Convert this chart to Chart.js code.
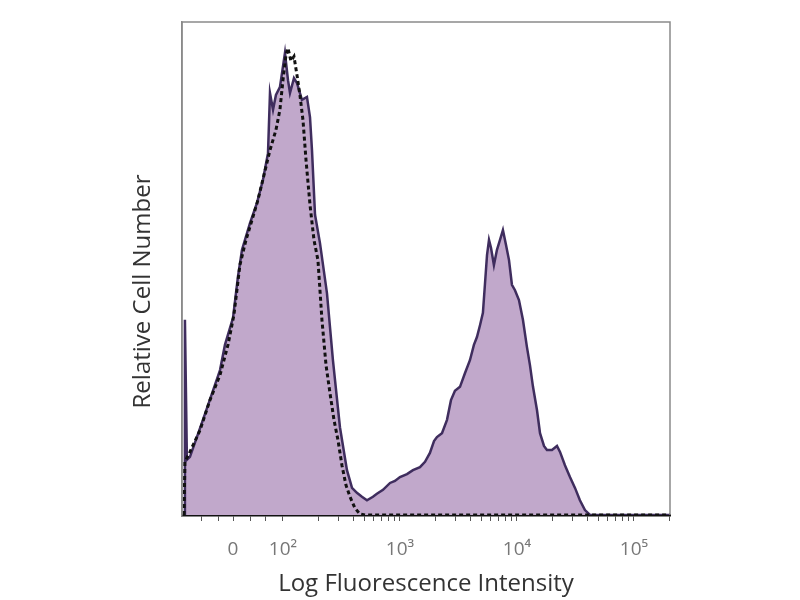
<!DOCTYPE html>
<html>
<head>
<meta charset="utf-8">
<script src="https://cdn.jsdelivr.net/npm/chart.js@4.4.1/dist/chart.umd.min.js"></script>
<style>
  html, body { margin: 0; padding: 0; background: #fff; }
</style>
</head>
<body>
<canvas id="histo" width="800" height="600"></canvas>
<script>
// x is in decade units of the biexponential display (2 = 10^2, 3 = 10^3 ...), y is % of max count
const stainedX = [1.162, 1.162, 1.179, 1.205, 1.316, 1.462, 1.504, 1.573, 1.615, 1.650, 1.718, 1.778, 1.829, 1.872, 1.889, 1.915, 1.940, 1.974, 2.017, 2.043, 2.060, 2.094, 2.120, 2.162, 2.205, 2.231, 2.248, 2.274, 2.316, 2.376, 2.427, 2.487, 2.547, 2.590, 2.632, 2.675, 2.718, 2.769, 2.803, 2.855, 2.915, 2.957, 3.000, 3.060, 3.111, 3.171, 3.214, 3.256, 3.291, 3.316, 3.359, 3.402, 3.436, 3.470, 3.513, 3.556, 3.598, 3.632, 3.658, 3.684, 3.709, 3.726, 3.744, 3.761, 3.778, 3.803, 3.829, 3.855, 3.880, 3.906, 3.932, 3.957, 3.983, 4.017, 4.051, 4.085, 4.111, 4.137, 4.171, 4.197, 4.231, 4.256, 4.299, 4.342, 4.368, 4.410, 4.453, 4.496, 4.538, 4.581, 4.624, 5.308];
const stainedY = [0, 39.6, 11.2, 11.8, 19.3, 29.4, 34.5, 40.0, 48.3, 53.8, 59.2, 63.3, 68.0, 73.4, 85.6, 82.2, 85.2, 86.8, 93.7, 88.2, 85.6, 88.6, 87.6, 84.2, 84.8, 80.7, 74.0, 60.9, 55.2, 45.0, 31.4, 17.8, 9.1, 5.5, 4.5, 3.7, 3.0, 3.7, 4.3, 5.1, 6.5, 6.9, 7.7, 8.3, 9.1, 9.7, 10.8, 12.6, 15.0, 15.8, 16.6, 19.3, 23.3, 25.2, 26.0, 28.8, 31.4, 34.5, 36.1, 38.5, 41.0, 46.7, 52.7, 55.8, 54.2, 50.7, 53.8, 55.8, 57.8, 54.8, 51.7, 46.7, 45.6, 43.6, 39.6, 34.1, 30.4, 26.0, 21.3, 16.6, 14.0, 13.2, 13.2, 14.0, 12.8, 10.1, 7.7, 5.5, 3.0, 1.0, 0, 0];

const isotypeX = [1.154, 1.162, 1.205, 1.291, 1.376, 1.462, 1.530, 1.581, 1.632, 1.684, 1.735, 1.786, 1.838, 1.889, 1.940, 1.974, 2.000, 2.026, 2.043, 2.068, 2.094, 2.120, 2.145, 2.171, 2.197, 2.231, 2.265, 2.299, 2.333, 2.368, 2.402, 2.436, 2.470, 2.504, 2.538, 2.573, 2.615, 2.658, 2.701, 5.308];
const isotypeY = [0, 10.8, 12.8, 17.2, 23.3, 28.4, 34.5, 40.6, 50.7, 55.8, 59.8, 63.9, 69.0, 74.0, 78.1, 82.2, 88.2, 93.3, 94.7, 92.1, 93.0, 89.2, 85.2, 80.1, 72.0, 62.9, 55.8, 51.7, 39.6, 30.4, 24.7, 19.3, 15.2, 10.1, 6.1, 3.7, 1.4, 0.2, 0, 0];

const majorTicks = [1.573, 2, 3, 4, 5];
const majorLabels = ['0', '10²', '10³', '10⁴', '10⁵'];
const minorTicks = [1.30, 1.45, 1.72, 1.85, 2.301, 2.477, 2.602, 2.699, 2.778, 2.845, 2.903, 2.954, 3.301, 3.477, 3.602, 3.699, 3.778, 3.845, 3.903, 3.954, 4.301, 4.477, 4.602, 4.699, 4.778, 4.845, 4.903, 4.954, 5.301];

const xMin = 1.137;
const xMax = 5.308;
const yTitle = 'Relative Cell Number';

const toPoints = (xs, ys) => xs.map((x, i) => ({ x: x, y: ys[i] }));

// grey frame round the plot area, plus the y title (sits a bit below the middle in the original)
const framePlugin = {
    id: 'frame',
    afterDatasetsDraw(chart) {
        const { ctx, chartArea: a } = chart;
        ctx.save();
        ctx.strokeStyle = '#8a8a8a';
        ctx.lineWidth = 1.5;
        ctx.beginPath();
        ctx.moveTo(a.left, a.bottom);
        ctx.lineTo(a.left, a.top);
        ctx.lineTo(a.right, a.top);
        ctx.lineTo(a.right, a.bottom);
        ctx.stroke();
        ctx.restore();
    },
    afterDraw(chart) {
        const { ctx, chartArea: a } = chart;
        ctx.save();
        ctx.translate(143, (a.top + a.bottom) / 2 + 23);
        ctx.rotate(-Math.PI / 2);
        ctx.font = '24px "Open Sans"';
        ctx.fillStyle = '#333';
        ctx.textAlign = 'center';
        ctx.textBaseline = 'middle';
        ctx.fillText(yTitle, 0, 0);
        ctx.restore();
    }
};

new Chart(document.getElementById('histo'), {
    type: 'line',
    data: {
        datasets: [{
            label: 'Isotype control',
            data: toPoints(isotypeX, isotypeY),
            borderColor: '#111111',
            borderWidth: 3,
            borderDash: [4, 3],
            fill: false,
            pointRadius: 0,
            tension: 0
        }, {
            label: 'Stained',
            data: toPoints(stainedX, stainedY),
            borderColor: '#3f2d5e',
            backgroundColor: '#c1a8cb',
            borderWidth: 2.5,
            fill: 'origin',
            pointRadius: 0,
            tension: 0
        }]
    },
    options: {
        responsive: false,
        animation: false,
        layout: { padding: { left: 130, top: 22, right: 130, bottom: 0 } },
        plugins: {
            legend: { display: false },
            tooltip: { enabled: false }
        },
        scales: {
            x: {
                type: 'linear',
                min: xMin,
                max: xMax,
                afterBuildTicks: (scale) => {
                    scale.ticks = majorTicks.concat(minorTicks).map(v => ({ value: v }));
                },
                afterFit: (scale) => { scale.height = 85; },
                ticks: {
                    autoSkip: false,
                    maxRotation: 0,
                    padding: 17,
                    color: '#777',
                    font: { family: 'Open Sans', size: 19 },
                    callback: (value) => {
                        const i = majorTicks.indexOf(value);
                        return i >= 0 ? majorLabels[i] : '';
                    }
                },
                grid: { drawOnChartArea: false, drawTicks: true, tickLength: 6, color: '#555' },
                border: { color: '#111', width: 2.5 },
                title: {
                    display: true,
                    text: 'Log Fluorescence Intensity',
                    color: '#333',
                    font: { family: 'Open Sans', size: 24 },
                    padding: { top: 0, bottom: 1 }
                }
            },
            y: {
                min: 0,
                max: 100,
                afterFit: (scale) => { scale.width = 52; },
                ticks: { display: false },
                grid: { display: false },
                border: { color: '#8a8a8a', width: 1.5 },
                title: { display: false }
            }
        }
    },
    plugins: [framePlugin]
});
</script>
</body>
</html>
